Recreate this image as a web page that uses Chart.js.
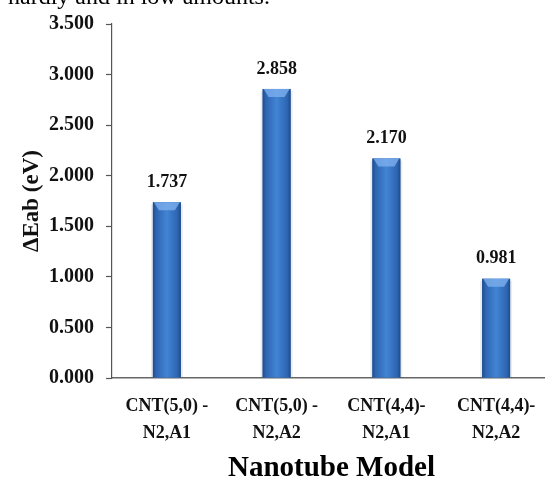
<!DOCTYPE html>
<html>
<head>
<meta charset="utf-8">
<script src="https://cdn.jsdelivr.net/npm/chart.js@4/dist/chart.umd.min.js"></script>
<style>
  html, body { margin: 0; padding: 0; background: #fff; overflow: hidden; }
  #wrap { position: relative; width: 551px; height: 480px; }
  #cut { position: absolute; left: 8px; top: -17px; font: 24px "Liberation Serif", serif; color: #000; white-space: nowrap; }
</style>
</head>
<body>
<div id="wrap">
  <canvas id="chart" width="551" height="480"></canvas>
  <div id="cut">hardly and in low amounts.</div>
</div>
<script>
// data
const categories = [['CNT(5,0) -', 'N2,A1'], ['CNT(5,0) -', 'N2,A2'], ['CNT(4,4)-', 'N2,A1'], ['CNT(4,4)-', 'N2,A2']];
const energies = [1.737, 2.858, 2.170, 0.981];
const yTicks = [0, 0.5, 1, 1.5, 2, 2.5, 3, 3.5];

const serif = '"Liberation Serif", "Times New Roman", serif';

// repaint each bar with a horizontal gradient + top bevel (excel cylinder look)
const barStyle = {
  id: 'barStyle',
  afterDatasetsDraw(chart) {
    const ctx = chart.ctx;
    ctx.save();
    chart.getDatasetMeta(0).data.forEach((bar, i) => {
      const w = bar.width, x0 = bar.x - w / 2, top = bar.y, h = bar.base - bar.y;
      // soft shadow at the sides
      ctx.fillStyle = 'rgba(0,0,0,0.08)';
      ctx.fillRect(x0 - 2, top + 2, w + 4, h - 2);
      const g = ctx.createLinearGradient(x0, 0, x0 + w, 0);
      g.addColorStop(0, '#1f4c8a');
      g.addColorStop(0.12, '#2d65b2');
      g.addColorStop(0.5, '#4284d4');
      g.addColorStop(0.88, '#2d65b2');
      g.addColorStop(1, '#1f4c8a');
      ctx.fillStyle = g;
      ctx.fillRect(x0, top, w, h);

      ctx.beginPath();
      ctx.moveTo(x0 + 1, top);
      ctx.lineTo(x0 + w - 1, top);
      ctx.lineTo(x0 + w - 6, top + 8);
      ctx.lineTo(x0 + 6, top + 8);
      ctx.closePath();
      ctx.fillStyle = 'rgba(125,175,238,0.8)';
      ctx.fill();

      // value above the bar
      ctx.fillStyle = '#111';
      ctx.font = 'bold 18px ' + serif;
      ctx.textAlign = 'center';
      ctx.textBaseline = 'middle';
      ctx.fillText(energies[i].toFixed(3), bar.x, top - 20);
    });
    ctx.restore();
  }
};

new Chart(document.getElementById('chart'), {
  type: 'bar',
  data: {
    labels: categories,
    datasets: [{
      data: energies,
      backgroundColor: '#3572c0',
      borderWidth: 0,
      barPercentage: 0.255,
      categoryPercentage: 1
    }]
  },
  options: {
    responsive: false,
    animation: false,
    layout: { padding: { top: 19, right: 0, bottom: 0, left: 0 } },
    plugins: { legend: { display: false }, tooltip: { enabled: false } },
    scales: {
      x: {
        grid: { display: false },
        border: { display: true, color: '#666', width: 1.5 },
        ticks: { color: '#111', padding: 7, font: { family: serif, size: 18, weight: 'bold', lineHeight: 1.5 } },
        title: { display: true, text: 'Nanotube Model', color: '#000', padding: { top: 0, bottom: 0 },
                 font: { family: serif, size: 29, weight: 'bold', lineHeight: 0.8 } },
        afterFit(s) { s.height = 102; }
      },
      y: {
        min: 0,
        max: 3.5,
        afterBuildTicks(s) { s.ticks = yTicks.map(v => ({ value: v })); },
        grid: { drawOnChartArea: false, tickLength: 6, color: '#555', tickWidth: 1.2 },
        border: { display: true, color: '#555', width: 1.2 },
        ticks: { color: '#111', padding: 12, callback: v => Number(v).toFixed(3),
                 font: { family: serif, size: 20, weight: 'bold' } },
        title: { display: true, text: 'ΔEab (eV)', color: '#111', padding: { top: 18, bottom: 0 },
                 font: { family: serif, size: 23, weight: 'bold' } },
        afterFit(s) { s.width = 112; }
      }
    }
  },
  plugins: [barStyle]
});
</script>
</body>
</html>
